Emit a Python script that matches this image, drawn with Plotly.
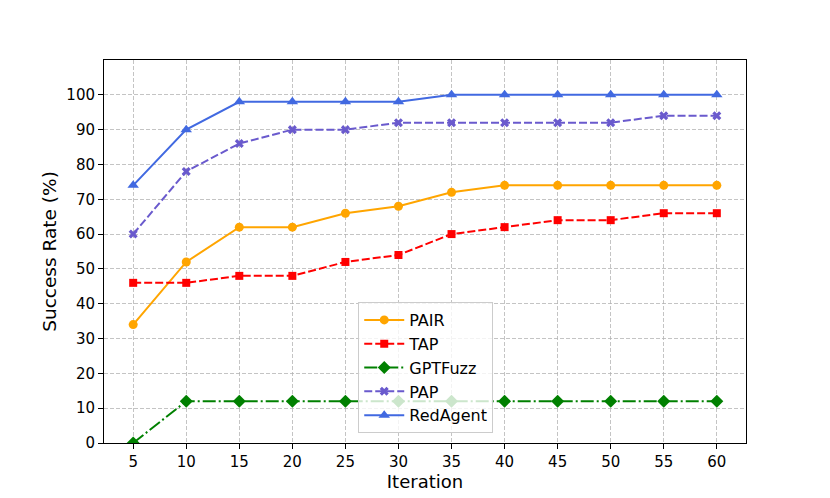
import plotly.graph_objects as go

iterations = [5, 10, 15, 20, 25, 30, 35, 40, 45, 50, 55, 60]
pair = [34, 52, 62, 62, 66, 68, 72, 74, 74, 74, 74, 74]
tap = [46, 46, 48, 48, 52, 54, 60, 62, 64, 64, 66, 66]
gptfuzz = [0, 12, 12, 12, 12, 12, 12, 12, 12, 12, 12, 12]
pap = [60, 78, 86, 90, 90, 92, 92, 92, 92, 92, 94, 94]
redagent = [74, 90, 98, 98, 98, 98, 100, 100, 100, 100, 100, 100]
y_ticks = list(range(0, 101, 10))

series = [
    ("PAIR", pair, "#FFA500", "solid", "circle", 9),
    ("TAP", tap, "#FF0000", "8px,3px", "square", 8),
    ("GPTFuzz", gptfuzz, "#008000", "13px,3px,2px,3px", "diamond", 10),
    ("PAP", pap, "#6A5ACD", "8px,3px", "x", 8),
    ("RedAgent", redagent, "#4169E1", "solid", "triangle-up", 10),
]

fig = go.Figure()
for name, vals, color, dash, sym, size in series:
    fig.add_trace(go.Scatter(
        x=iterations, y=vals, name=name, mode="lines+markers",
        line=dict(color=color, width=2, dash=dash),
        marker=dict(symbol=sym, size=size, color=color, line=dict(width=0)),
    ))

axis_common = dict(
    showline=True, linecolor="black", linewidth=1, mirror=True,
    ticks="outside", ticklen=5, tickcolor="black",
    showgrid=True, gridcolor="rgba(176,176,176,0.75)", griddash="4px,2px", gridwidth=1,
    zeroline=False, tickfont=dict(size=15, color="black"),
)

fig.update_xaxes(
    range=[2.25, 62.75], tickmode="array", tickvals=iterations,
    title=dict(text="Iteration", font=dict(size=18, color="black"), standoff=1),
    **axis_common,
)
fig.update_yaxes(
    range=[0, 110], tickmode="array", tickvals=y_ticks,
    title=dict(text="Success Rate (%)", font=dict(size=18.5, color="black"), standoff=4),
    **axis_common,
)

fig.update_layout(
    width=830, height=498,
    margin=dict(l=96, r=92, t=52, b=63),
    plot_bgcolor="white", paper_bgcolor="white",
    font=dict(family="DejaVu Sans", color="black"),
    legend=dict(
        x=0.396, y=0.026, xanchor="left", yanchor="bottom",
        bgcolor="rgba(255,255,255,0.8)", bordercolor="#CCCCCC", borderwidth=1,
        font=dict(size=16), tracegroupgap=0, itemwidth=40,
    ),
)

fig.write_html("out.html")
